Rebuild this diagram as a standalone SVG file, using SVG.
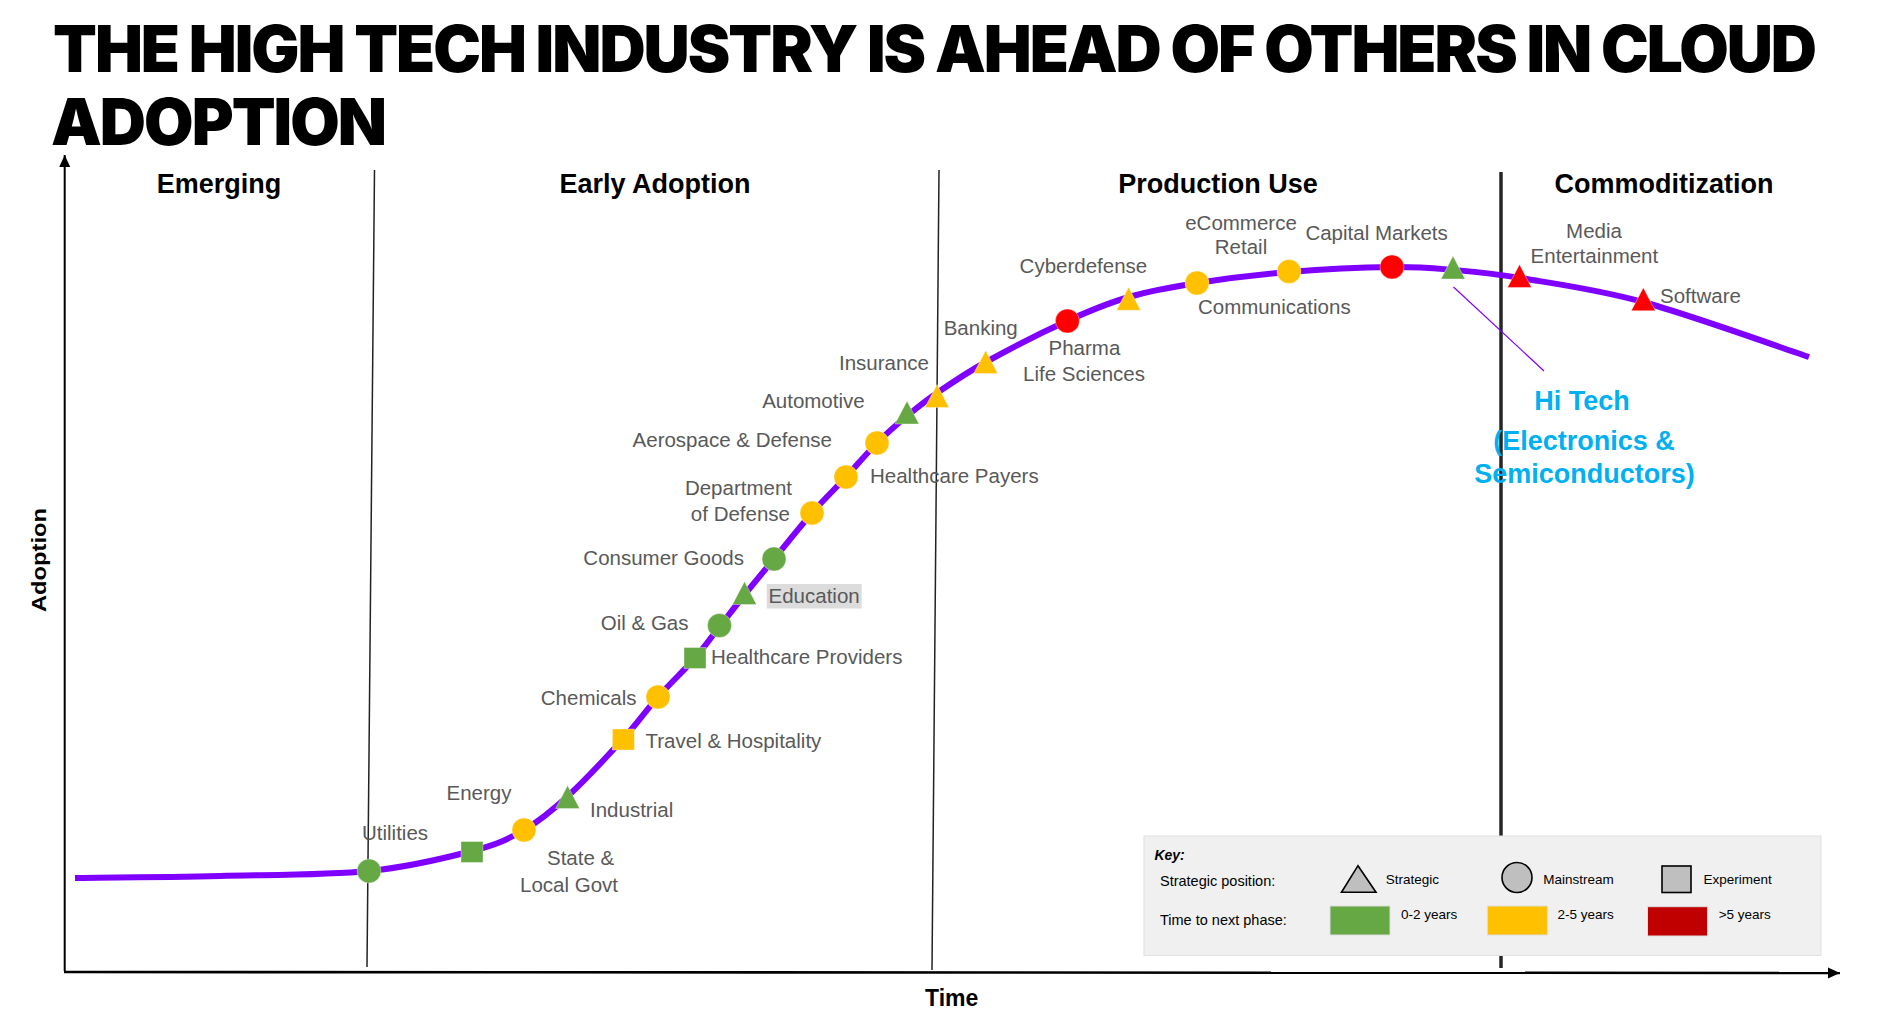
<svg xmlns="http://www.w3.org/2000/svg" width="1897" height="1018" viewBox="0 0 1897 1018">
<style>
.title{font-family:Inter,"Liberation Sans",sans-serif;font-weight:900;font-size:64px;fill:#000;letter-spacing:-2px}
.phase{font-family:"Liberation Sans",Arial,sans-serif;font-weight:bold;font-size:27px;fill:#000;text-anchor:middle}
.axis{font-family:"Liberation Sans",Arial,sans-serif;font-weight:bold;fill:#000}
.lbl{font-family:"Liberation Sans",Arial,sans-serif;font-size:20.5px;fill:#595959}
.hitech{font-family:"Liberation Sans",Arial,sans-serif;font-weight:bold;font-size:27px;fill:#00B0F0;text-anchor:middle}
.key{font-family:"Liberation Sans",Arial,sans-serif;font-size:13.5px;fill:#000}
.keyh{font-family:"Liberation Sans",Arial,sans-serif;font-size:14.5px;fill:#000}
.g{fill:#66A844}
.y{fill:#FFC000}
.r{fill:#FF0000}
.mk{stroke:#ffffff;stroke-width:0.6;stroke-opacity:0.6}
.div{stroke:#222;stroke-width:1.5;fill:none}
.lgs{fill:#BFBFBF;stroke:#000;stroke-width:1.6}
</style>
<defs>
<marker id="arrow" markerUnits="userSpaceOnUse" markerWidth="13" markerHeight="12" refX="12" refY="5.5" orient="auto">
<path d="M0,0 L12,5.5 L0,11 Z" fill="#000"/>
</marker>
<circle id="mc" r="12"/>
<path id="mt" d="M0,-11.5L12,11.5H-12Z"/>
<rect id="ms" x="-11" y="-10.5" width="22" height="21"/>
</defs>
<rect width="1897" height="1018" fill="#fff"/>

<g id="title">
<text class="title" x="53" y="72" textLength="1762" lengthAdjust="spacingAndGlyphs">THE HIGH TECH INDUSTRY IS AHEAD OF OTHERS IN CLOUD</text>
<text class="title" x="51" y="145" textLength="334" lengthAdjust="spacingAndGlyphs">ADOPTION</text>
</g>

<g id="phases">
<line class="div" x1="374.5" y1="170" x2="367" y2="967"/>
<line class="div" x1="939" y1="170" x2="932" y2="970"/>
<line x1="1501" y1="172" x2="1501" y2="968" stroke="#262626" stroke-width="3.5"/>
<text class="phase" x="219" y="193">Emerging</text>
<text class="phase" x="655" y="193">Early Adoption</text>
<text class="phase" x="1218" y="193">Production Use</text>
<text class="phase" x="1664" y="193">Commoditization</text>
</g>

<g id="axes">
<line x1="64.7" y1="971" x2="64.7" y2="155" stroke="#000" stroke-width="2" marker-end="url(#arrow)"/>
<line x1="64" y1="972" x2="1840" y2="973" stroke="#000" stroke-width="2.6" marker-end="url(#arrow)"/>
<text class="axis" font-size="20" transform="translate(45.5,560) rotate(-90)" text-anchor="middle" textLength="104" lengthAdjust="spacingAndGlyphs">Adoption</text>
<text class="axis" font-size="23" x="925" y="1006">Time</text>
</g>

<g id="connectors">
<path d="M75,878 C99.2,877.7 171,877.2 220,876 C269,874.8 327,875.2 369,871 C411,866.8 446.2,857.8 472,851 C497.8,844.2 508,839.2 524,830 C540,820.8 551.5,811.2 568,796 C584.5,780.8 608,755.5 623,739 C638,722.5 646,710.5 658,697 C670,683.5 684.7,669.8 695,658 C705.3,646.2 711.5,636.8 720,626 C728.5,615.2 737,604.2 746,593 C755,581.8 763,572.3 774,559 C785,545.7 800,526.7 812,513 C824,499.3 835.2,488.7 846,477 C856.8,465.3 866.8,453.2 877,443 C887.2,432.8 897,424.3 907,416 C917,407.7 923.8,402 937,393 C950.2,384 964.3,374 986,362 C1007.7,350 1043.2,331.8 1067,321 C1090.8,310.2 1107.3,303.3 1129,297 C1150.7,290.7 1170.3,287.2 1197,283 C1223.7,278.8 1256.5,274.7 1289,272 C1321.5,269.3 1364.5,267.3 1392,267 C1419.5,266.7 1432.7,268.2 1454,270 C1475.3,271.8 1488.5,272.7 1520,278 C1551.5,283.3 1594.8,288.8 1643,302 C1691.2,315.2 1781.3,347.8 1809,357" fill="none" stroke="#7F00FF" stroke-width="6"/>
<line x1="1453.5" y1="287" x2="1544" y2="371" stroke="#7F00FF" stroke-width="1.2"/>
</g>

<g id="node-utilities"><use href="#mc" class="g mk" x="369" y="871"/><text class="lbl" x="362" y="840">Utilities</text></g>
<g id="node-energy"><use href="#ms" class="g mk" x="472" y="852"/><text class="lbl" x="446.5" y="800">Energy</text></g>
<g id="node-state-local-govt"><use href="#mc" class="y mk" x="524" y="830"/><text class="lbl" x="547" y="865">State &amp;</text><text class="lbl" x="520" y="891.5">Local Govt</text></g>
<g id="node-industrial"><use href="#mt" class="g mk" x="567.6" y="797"/><text class="lbl" x="590" y="816.5">Industrial</text></g>
<g id="node-travel"><use href="#ms" class="y mk" x="623.4" y="739.5"/><text class="lbl" x="645.5" y="748">Travel &amp; Hospitality</text></g>
<g id="node-chemicals"><use href="#mc" class="y mk" x="658" y="697"/><text class="lbl" x="636.5" y="705" text-anchor="end">Chemicals</text></g>
<g id="node-healthcare-providers"><use href="#ms" class="g mk" x="695" y="658"/><text class="lbl" x="711" y="664">Healthcare Providers</text></g>
<g id="node-oil-gas"><use href="#mc" class="g mk" x="719.5" y="625.5"/><text class="lbl" x="688.5" y="630" text-anchor="end">Oil &amp; Gas</text></g>
<g id="node-education"><use href="#mt" class="g mk" x="744.5" y="593"/><rect x="766.7" y="584" width="95" height="24.5" fill="#DCDCDC"/><text class="lbl" x="768.5" y="603">Education</text></g>
<g id="node-consumer-goods"><use href="#mc" class="g mk" x="774" y="559"/><text class="lbl" x="744" y="565" text-anchor="end">Consumer Goods</text></g>
<g id="node-dept-defense"><use href="#mc" class="y mk" x="812" y="513"/><text class="lbl" x="792" y="495" text-anchor="end">Department</text><text class="lbl" x="790" y="521" text-anchor="end">of Defense</text></g>
<g id="node-healthcare-payers"><use href="#mc" class="y mk" x="846" y="477"/><text class="lbl" x="870" y="483">Healthcare Payers</text></g>
<g id="node-aerospace"><use href="#mc" class="y mk" x="877" y="443"/><text class="lbl" x="832" y="446.5" text-anchor="end">Aerospace &amp; Defense</text></g>
<g id="node-automotive"><use href="#mt" class="g mk" x="907" y="412.5"/><text class="lbl" x="864.7" y="408" text-anchor="end">Automotive</text></g>
<g id="node-insurance"><use href="#mt" class="y mk" x="937" y="396"/><text class="lbl" x="929" y="370" text-anchor="end">Insurance</text></g>
<g id="node-banking"><use href="#mt" class="y mk" x="985.7" y="362"/><text class="lbl" x="943.7" y="335">Banking</text></g>
<g id="node-pharma"><use href="#mc" class="r mk" x="1067.4" y="321"/><text class="lbl" x="1084.4" y="355" text-anchor="middle">Pharma</text><text class="lbl" x="1084" y="380.5" text-anchor="middle">Life Sciences</text></g>
<g id="node-cyberdefense"><use href="#mt" class="y mk" x="1128.6" y="298.7"/><text class="lbl" x="1019.6" y="272.5">Cyberdefense</text></g>
<g id="node-communications"><use href="#mc" class="y mk" x="1197" y="283"/><text class="lbl" x="1198" y="314">Communications</text></g>
<g id="node-ecommerce"><use href="#mc" class="y mk" x="1289" y="271.5"/><text class="lbl" x="1241" y="230" text-anchor="middle">eCommerce</text><text class="lbl" x="1241" y="254" text-anchor="middle">Retail</text></g>
<g id="node-capital-markets"><use href="#mc" class="r mk" x="1392" y="267"/><text class="lbl" x="1305.4" y="240">Capital Markets</text></g>
<g id="node-hi-tech"><use href="#mt" class="g mk" x="1453" y="267.5"/><text class="hitech" x="1582" y="410">Hi Tech</text><text class="hitech" x="1584" y="450">(Electronics &amp;</text><text class="hitech" x="1584.5" y="483">Semiconductors)</text></g>
<g id="node-media"><use href="#mt" class="r mk" x="1519.5" y="276"/><text class="lbl" x="1594" y="238.3" text-anchor="middle">Media</text><text class="lbl" x="1594.4" y="262.7" text-anchor="middle">Entertainment</text></g>
<g id="node-software"><use href="#mt" class="r mk" x="1643.3" y="299.2"/><text class="lbl" x="1660" y="303">Software</text></g>

<g id="legend">
<rect x="1144" y="836" width="677" height="119.5" fill="#F0F0F0" stroke="#E0E0E0" stroke-width="1"/>
<text x="1154.4" y="860" font-family="Liberation Sans, Arial, sans-serif" font-size="14" font-weight="bold" font-style="italic">Key:</text>
<text class="keyh" x="1160" y="886">Strategic position:</text>
<text class="keyh" x="1160" y="925">Time to next phase:</text>
<polygon class="lgs" points="1358,865.7 1376,892.3 1341.5,892.3"/>
<text class="key" x="1385.7" y="884">Strategic</text>
<ellipse class="lgs" cx="1517" cy="877.5" rx="15" ry="15"/>
<text class="key" x="1543.3" y="884">Mainstream</text>
<rect class="lgs" x="1662" y="866" width="29" height="26.5"/>
<text class="key" x="1703.5" y="884">Experiment</text>
<rect x="1330" y="906" width="60" height="29" fill="#66A844" stroke="#DDDDDD" stroke-width="1"/>
<text class="key" x="1401" y="919">0-2 years</text>
<rect x="1487.4" y="906" width="60" height="29" fill="#FFC000" stroke="#DDDDDD" stroke-width="1"/>
<text class="key" x="1557.6" y="919">2-5 years</text>
<rect x="1647.5" y="906.7" width="60" height="29.3" fill="#C00000" stroke="#DDDDDD" stroke-width="1"/>
<text class="key" x="1718.7" y="919">&gt;5 years</text>
</g>
</svg>
